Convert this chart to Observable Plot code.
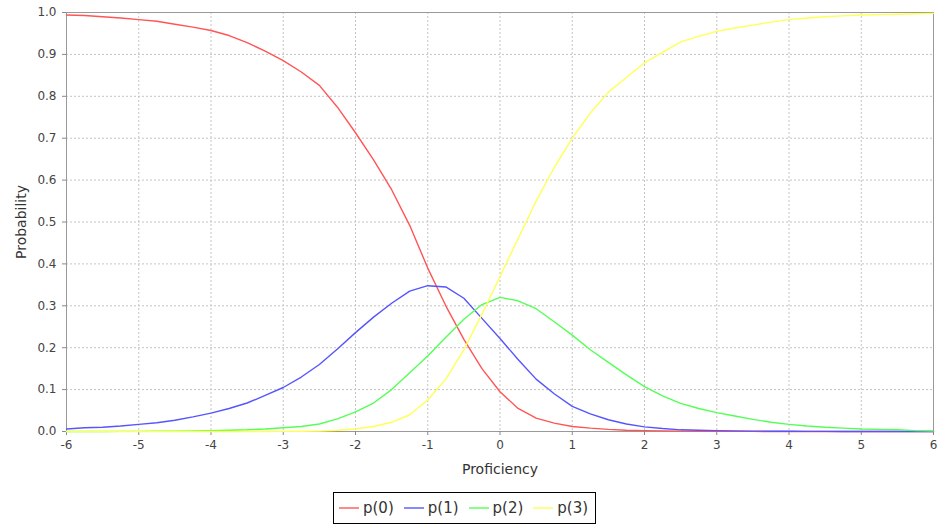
<!DOCTYPE html>
<html>
<head>
<meta charset="utf-8">
<script src="https://cdn.jsdelivr.net/npm/d3@7"></script>
<script src="https://cdn.jsdelivr.net/npm/@observablehq/plot@0.6"></script>
<style>
  html, body { margin: 0; padding: 0; background: #fff; }
  #wrap { position: relative; width: 940px; height: 527px; font-family: "DejaVu Sans", sans-serif; }
  #legend { position: absolute; left: 333px; top: 492px; width: 263px; height: 32px; box-sizing: border-box;
            border: 1px solid #000; display: flex; align-items: center; padding-left: 5px; font-size: 15px; color: #333; }
  #legend .item { display: flex; align-items: center; margin-right: 10px; }
  #legend svg { margin-right: 4px; }
</style>
</head>
<body>
<div id="wrap"><div id="chart"></div><div id="legend"></div></div>
<script>
// Proficiency values (x)
const theta = [-6, -5.75, -5.5, -5.25, -5, -4.75, -4.5, -4.25, -4, -3.75, -3.5, -3.25, -3, -2.75, -2.5, -2.25, -2, -1.75, -1.5, -1.25, -1, -0.75, -0.5, -0.25, 0, 0.25, 0.5, 0.75, 1, 1.25, 1.5, 1.75, 2, 2.25, 2.5, 2.75, 3, 3.25, 3.5, 3.75, 4, 4.25, 4.5, 4.75, 5, 5.25, 5.5, 5.75, 6];

// Probabilities for each category
const p0 = [0.994, 0.993, 0.990, 0.987, 0.983, 0.979, 0.972, 0.965, 0.957, 0.945,
            0.928, 0.908, 0.885, 0.858, 0.826, 0.774, 0.713, 0.648, 0.577, 0.492,
            0.39, 0.30, 0.22, 0.15, 0.095, 0.055, 0.032, 0.02, 0.012, 0.008,
            0.005, 0.003, 0.002, 0.0015, 0.001, 0.0007, 0.0005, 0.0003, 0.0002, 0.0001,
            0.0001, 0, 0, 0, 0, 0, 0, 0, 0];
const p1 = [0.006, 0.009, 0.010, 0.013, 0.017, 0.021, 0.027, 0.035, 0.044, 0.055,
            0.068, 0.086, 0.105, 0.13, 0.16, 0.197, 0.236, 0.273, 0.306, 0.335,
            0.348, 0.345, 0.318, 0.27, 0.222, 0.172, 0.125, 0.09, 0.06, 0.042,
            0.028, 0.018, 0.011, 0.007, 0.004, 0.003, 0.002, 0.0015, 0.001, 0.0007,
            0.0005, 0.0003, 0.0002, 0.0001, 0.0001, 0, 0, 0, 0];
const p2 = [0, 0, 0.0001, 0.0002, 0.0003, 0.0005, 0.001, 0.0015, 0.002, 0.003,
            0.004, 0.006, 0.009, 0.012, 0.018, 0.03, 0.047, 0.068, 0.10, 0.14,
            0.18, 0.225, 0.268, 0.303, 0.32, 0.312, 0.293, 0.262, 0.23, 0.195,
            0.165, 0.135, 0.107, 0.085, 0.067, 0.055, 0.045, 0.037, 0.029, 0.022,
            0.017, 0.013, 0.010, 0.008, 0.006, 0.005, 0.004, 0.002, 0.001];
const p3 = [0, 0, 0, 0, 0, 0, 0, 0, 0, 0,
            0, 0.0001, 0.0002, 0.0005, 0.001, 0.003, 0.006, 0.012, 0.022, 0.04,
            0.075, 0.125, 0.195, 0.28, 0.37, 0.46, 0.55, 0.63, 0.70, 0.76,
            0.81, 0.845, 0.88, 0.905, 0.93, 0.943, 0.955, 0.963, 0.97, 0.977,
            0.983, 0.987, 0.99, 0.992, 0.994, 0.995, 0.996, 0.997, 0.998];

const seriesNames = ["p(0)", "p(1)", "p(2)", "p(3)"];
const seriesColors = ["#FF5555", "#5555FF", "#55FF55", "#FFFF55"];
const xTicks = [-6, -5, -4, -3, -2, -1, 0, 1, 2, 3, 4, 5, 6];
const yTicks = [0, 0.1, 0.2, 0.3, 0.4, 0.5, 0.6, 0.7, 0.8, 0.9, 1.0];

const allSeries = [p0, p1, p2, p3];
const data = seriesNames.flatMap((name, i) =>
  theta.map((t, j) => ({ theta: t, p: allSeries[i][j], series: name })));

const chart = Plot.plot({
  width: 940,
  height: 482,
  marginLeft: 66,
  marginRight: 7,
  marginTop: 12,
  marginBottom: 51,
  style: { fontFamily: "DejaVu Sans, sans-serif", fontSize: "12px", color: "#444", background: "#fff" },
  x: { domain: [-6, 6] },
  y: { domain: [0, 1] },
  color: { domain: seriesNames, range: seriesColors },
  marks: [
    Plot.gridX(xTicks, { stroke: "#c4c4c4", strokeOpacity: 1, strokeDasharray: "2,2" }),
    Plot.gridY(yTicks, { stroke: "#c4c4c4", strokeOpacity: 1, strokeDasharray: "2,2" }),
    Plot.frame({ stroke: "#999" }),
    Plot.axisX(xTicks, { tickFormat: d => String(d), tickSize: 4, tickPadding: 5, stroke: "#888",
      label: "Proficiency", labelAnchor: "center", labelArrow: "none", labelOffset: 42, fontSize: 12 }),
    Plot.axisY(yTicks, { tickFormat: d => d.toFixed(1), tickSize: 4, tickPadding: 6, stroke: "#888",
      label: "Probability", labelAnchor: "center", labelArrow: "none", labelOffset: 50, fontSize: 12 }),
    Plot.line(data, { x: "theta", y: "p", stroke: "series", z: "series", strokeWidth: 1.4 })
  ]
});
document.getElementById("chart").appendChild(chart);

// style axis labels
chart.querySelectorAll("[aria-label='x-axis label'] text, [aria-label='y-axis label'] text").forEach(t => {
  t.style.fontSize = "14px";
  t.setAttribute("fill", "#333");
});

// Legend
const legend = d3.select("#legend");
seriesNames.forEach((name, i) => {
  const item = legend.append("div").attr("class", "item");
  const sw = item.append("svg").attr("width", 20).attr("height", 10);
  sw.append("line").attr("x1", 0).attr("x2", 20).attr("y1", 5).attr("y2", 5)
    .attr("stroke", seriesColors[i]).attr("stroke-width", 1.4);
  item.append("span").text(name);
});
</script>
</body>
</html>
